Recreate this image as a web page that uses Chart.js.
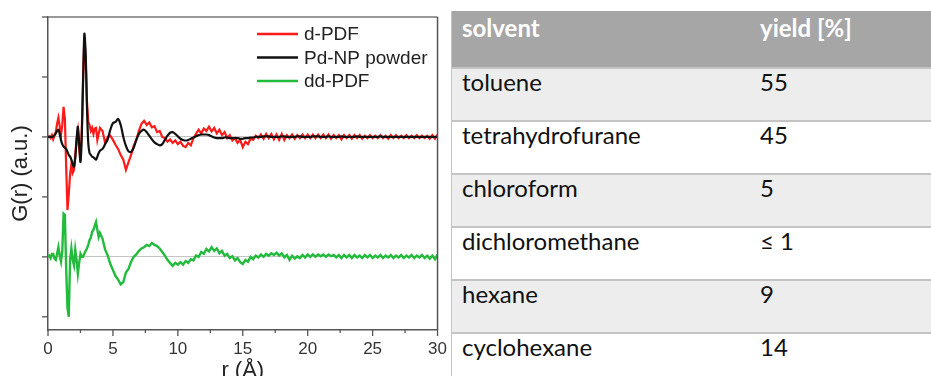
<!DOCTYPE html>
<html>
<head>
<meta charset="utf-8">
<script src="https://cdn.jsdelivr.net/npm/chart.js@4/dist/chart.umd.min.js"></script>
<style>
body{margin:0;width:931px;height:376px;overflow:hidden;background:#fff;position:relative}
#plot{position:absolute;left:0;top:0;width:456px;height:390px}
#tbl{position:absolute;left:451px;top:11px;width:520px;table-layout:fixed;border-collapse:collapse;font-family:Lato,sans-serif;font-size:24px;color:#111;border-left:1px solid #c4c4c4;background:#fff}
#tbl th,#tbl td{text-align:left;vertical-align:top;padding:0 0 0 10px;line-height:26px}
#tbl th{background:#a6a6a6;color:#fff;font-weight:700;height:52px;padding-top:4px}
#tbl td{height:53px;border-top:2px solid #c4c4c4;box-sizing:border-box}
#tbl tr:nth-child(even) td{background:#ededed}
#tbl th:first-child{width:288px}
</style>
</head>
<body>
<div id="plot"><canvas id="pdfChart"></canvas></div>
<table id="tbl"></table>
<script>
// r sampling positions (Å)
const rGrid = [
  0,0.1,0.2,0.3,0.4,0.5,0.6,0.7,0.8,0.9,
  1,1.1,1.2,1.3,1.4,1.5,1.6,1.7,1.8,1.9,
  2,2.1,2.2,2.3,2.4,2.5,2.6,2.7,2.8,2.9,
  3,3.1,3.2,3.3,3.4,3.5,3.6,3.7,3.8,3.9,
  4,
  4.2,4.4,4.6,4.8,5,5.2,5.4,5.6,5.8,6,
  6.2,6.4,6.6,6.8,7,7.2,7.4,7.6,7.8,8,
  8.2,8.4,8.6,8.8,9,9.2,9.4,9.6,9.8,10,
  10.2,10.4,10.6,10.8,11,11.2,11.4,11.6,11.8,12,
  12.2,12.4,12.6,12.8,13,13.2,13.4,13.6,13.8,14,
  14.2,14.4,14.6,14.8,15,15.2,15.4,15.6,15.8,16,
  16.2,16.4,16.6,16.8,17,17.2,17.4,17.6,17.8,18,
  18.2,18.4,18.6,18.8,19,19.2,19.4,19.6,19.8,20,
  20.2,20.4,20.6,20.8,21,21.2,21.4,21.6,21.8,22,
  22.2,22.4,22.6,22.8,23,23.2,23.4,23.6,23.8,24,
  24.2,24.4,24.6,24.8,25,25.2,25.4,25.6,25.8,26,
  26.2,26.4,26.6,26.8,27,27.2,27.4,27.6,27.8,28,
  28.2,28.4,28.6,28.8,29,29.2,29.4,29.6,29.8,30
];

// d-PDF (rojo)
const dPdf = [
  0,0.01,-0.02,0.03,-0.04,0.02,0.08,0.22,0.32,0.18,
  0.03,0.2,0.5,0.3,-0.5,-1.22,-0.95,-0.63,-0.45,-0.6,
  -0.55,-0.3,-0.05,0.1,-0.2,-0.38,0.1,1.0,1.62,1.3,
  0.6,0.25,0.2,0.1,0.15,0.05,0.14,0.15,-0.05,0.05,
  0.15,
  0.1,-0.1,0,0.02,-0.05,-0.13,-0.2,-0.3,-0.38,-0.55,
  -0.42,-0.3,-0.15,-0.05,0.1,0.22,0.27,0.2,0.24,0.16,
  0.18,0.08,0.1,0,-0.02,-0.08,-0.04,-0.1,-0.06,-0.12,
  -0.08,-0.15,-0.17,-0.1,-0.14,-0.02,0.05,0.12,0.06,0.14,
  0.1,0.17,0.09,0.15,0.06,0.12,0.03,0.08,-0.02,0.03,
  -0.06,-0.02,-0.1,-0.05,-0.17,-0.08,-0.12,-0.03,-0.05,0.02,
  -0.02,0.04,-0.03,0.05,-0.02,0.05,-0.04,0.04,-0.05,0.05,
  -0.05,0.03,-0.02,0.04,-0.03,0.03,-0.02,0.04,-0.02,0.04,
  -0.02,0.04,-0.02,0.04,-0.02,0.04,-0.02,0.04,-0.03,0.03,
  -0.02,0.03,-0.04,0.03,-0.02,0.03,-0.03,0.03,-0.02,0.03,
  -0.03,0.02,-0.02,0.03,-0.02,0.02,-0.02,0.03,-0.02,0.02,
  -0.03,0.03,-0.02,0.03,-0.02,0.02,-0.02,0.03,-0.02,0.02,
  -0.02,0.03,-0.02,0.02,-0.02,0.02,-0.03,0.03,-0.03,0.04
];

// Pd-NP powder (negro)
const pdPowder = [
  0,0,0,0,0.01,0.03,0.06,0.1,0.12,0.05,
  -0.05,-0.12,-0.16,-0.18,-0.2,-0.25,-0.3,-0.33,-0.38,-0.45,
  -0.5,-0.35,-0.05,0.17,-0.1,-0.42,0,0.9,1.72,1.4,
  0.5,-0.1,-0.27,-0.3,-0.33,-0.34,-0.36,-0.38,-0.33,-0.27,
  -0.23,
  -0.2,-0.12,-0.04,0.12,0.23,0.25,0.3,0.2,0,-0.15,
  -0.24,-0.25,-0.18,-0.05,0.05,0.1,0.12,0.08,0.02,-0.04,
  -0.09,-0.12,-0.14,-0.12,-0.05,0.02,0.07,0.08,0.05,0.01,
  -0.03,-0.05,-0.06,-0.05,-0.03,-0.01,0.01,0.03,0.04,0.04,
  0.04,0.03,0.01,-0.01,-0.02,-0.02,-0.02,-0.01,-0.01,-0.02,
  -0.02,-0.02,-0.02,-0.03,-0.03,-0.02,-0.02,-0.01,-0.01,0,
  0,0,0.01,0.01,0.01,0,0,0,0,0.01,
  0.01,0,0,0,0,0.01,0.01,0,0,0,
  0,0.01,0.01,0.01,0,0,0,0.01,0,0,
  0,0,0.01,0,0,0,0,0,0.01,0,
  0,0,0,0,0,0,0,0.01,0,0,
  0,0,0,0,0,0,0,0,0,0,
  0,0,0,0,0,0,0,0,0,0
];

// dd-PDF (verde), se dibuja desplazado hacia abajo
const ddPdf = [
  0,0.02,-0.02,0.05,0.05,-0.03,-0.05,0.05,0.16,0.02,
  -0.08,0.1,0.72,0.7,-0.2,-0.85,-1.0,-0.05,0.14,-0.05,
  -0.14,0.12,-0.05,-0.28,-0.1,0.05,0,0,0.05,0.1,
  0.14,0.2,0.28,0.32,0.42,0.45,0.52,0.58,0.45,0.33,
  0.4,
  0.3,0.12,0.02,-0.12,-0.22,-0.32,-0.38,-0.46,-0.42,-0.26,
  -0.2,-0.08,0,0.04,0.1,0.14,0.16,0.2,0.18,0.23,
  0.2,0.18,0.14,0.08,0.02,-0.05,-0.1,-0.15,-0.1,-0.13,
  -0.09,-0.13,-0.07,-0.1,-0.04,-0.06,0.02,0,0.08,0.05,
  0.13,0.09,0.16,0.1,0.14,0.06,0.1,0.02,0.05,-0.02,
  0.01,-0.06,-0.02,-0.09,-0.12,-0.05,-0.08,0,-0.04,0.02,
  -0.01,0.04,0,0.05,0.02,0.06,0.03,0.07,0.02,0.06,
  -0.01,0.03,-0.05,0.02,-0.03,0.01,-0.02,0.03,-0.01,0.04,
  0,0.04,0,0.04,0.01,0.04,0,0.04,0.01,0.03,
  -0.01,0.03,-0.02,0.03,-0.01,0.03,-0.02,0.03,-0.01,0.02,
  -0.02,0.03,-0.01,0.03,-0.02,0.02,-0.01,0.03,-0.02,0.02,
  -0.01,0.03,-0.02,0.02,-0.01,0.03,-0.02,0.02,-0.01,0.03,
  -0.02,0.02,-0.01,0.03,-0.02,0.02,-0.03,0.02,-0.04,0.04
];
const ddOffset = -2;

const xTickStep = 2.5;
const yTickStep = 1;

// tabla
const solvents = ['toluene','tetrahydrofurane','chloroform','dichloromethane','hexane','cyclohexane'];
const yields = ['55','45','5','≤ 1','9','14'];
const tableHead = ['solvent','yield [%]'];

const tbl = document.getElementById('tbl');
let html = '<tr><th>' + tableHead[0] + '</th><th>' + tableHead[1] + '</th></tr>';
solvents.forEach((s, i) => {
    html += '<tr><td>' + s + '</td><td>' + yields[i] + '</td></tr>';
});
tbl.innerHTML = html;

const toPoints = (vals, shift) => rGrid.map((r, i) => ({x: r, y: vals[i] + shift}));

// marco, ticks y leyenda dentro del area
const framePlugin = {
    id: 'frame',
    afterDraw(chart){
        const {ctx, chartArea: a, scales: {x, y}} = chart;
        ctx.save();
        ctx.lineWidth = 1.5;
        ctx.strokeStyle = '#777';
        ctx.beginPath(); ctx.moveTo(a.left, a.top); ctx.lineTo(a.right, a.top); ctx.stroke();
        ctx.strokeStyle = '#555';
        ctx.beginPath(); ctx.moveTo(a.right, a.top); ctx.lineTo(a.right, a.bottom); ctx.stroke();

        ctx.lineWidth = 1.3;
        x.ticks.forEach(t => {
            const px = x.getPixelForValue(t.value);
            const len = t.value % 5 === 0 ? 6 : 3;
            ctx.beginPath(); ctx.moveTo(px, a.bottom); ctx.lineTo(px, a.bottom + len); ctx.stroke();
        });
        y.ticks.forEach(t => {
            const py = y.getPixelForValue(t.value);
            ctx.beginPath(); ctx.moveTo(a.left, py); ctx.lineTo(a.left - 6, py); ctx.stroke();
        });

        ctx.font = '19px "Liberation Sans", Arial, sans-serif';
        ctx.textBaseline = 'middle';
        ctx.fillStyle = '#222';
        chart.data.datasets.forEach((ds, i) => {
            const ly = a.top + 17 + i * 23.5;
            ctx.strokeStyle = ds.borderColor;
            ctx.lineWidth = 2.5;
            ctx.beginPath(); ctx.moveTo(a.left + 209, ly); ctx.lineTo(a.left + 250, ly); ctx.stroke();
            ctx.fillText(ds.label, a.left + 256, ly + 1);
        });
        ctx.restore();
    }
};

const pdfChart = new Chart(document.getElementById('pdfChart'), {
    type: 'line',
    data: {
        datasets: [
            {
                label: 'd-PDF',
                data: toPoints(dPdf, 0),
                borderColor: '#ff1a1a',
                borderWidth: 2.2,
                order: 1
            },
            {
                label: 'Pd-NP powder',
                data: toPoints(pdPowder, 0),
                borderColor: '#111111',
                borderWidth: 2.2,
                tension: 0.3,
                order: 0
            },
            {
                label: 'dd-PDF',
                data: toPoints(ddPdf, ddOffset),
                borderColor: '#22bb3c',
                borderWidth: 2.4,
                order: 2
            }
        ]
    },
    options: {
        responsive: true,
        maintainAspectRatio: false,
        animation: false,
        elements: { point: { radius: 0 } },
        layout: { padding: { top: 17, right: 0, left: 0, bottom: 0 } },
        scales: {
            x: {
                type: 'linear',
                min: 0,
                max: 30,
                afterFit(scale){ scale.height = 60; },
                grid: { display: false, drawTicks: false },
                border: { display: true, color: '#555', width: 1.5 },
                ticks: {
                    stepSize: xTickStep,
                    padding: 9,
                    color: '#333',
                    maxRotation: 0,
                    autoSkip: false,
                    font: { family: 'Liberation Sans', size: 17 },
                    callback: (v) => (v % 5 === 0 ? v : '')
                },
                title: {
                    display: true,
                    text: 'r (Å)',
                    color: '#222',
                    font: { family: 'Liberation Sans', size: 22 },
                    padding: { top: 0, bottom: 6 }
                }
            },
            y: {
                min: -3.22,
                max: 2.0,
                afterFit(scale){ scale.width = 48; },
                grid: {
                    drawTicks: false,
                    lineWidth: 1,
                    color: (c) => (c.tick && (c.tick.value === 0 || c.tick.value === ddOffset)) ? '#c4c4c4' : 'rgba(0,0,0,0)'
                },
                border: { display: true, color: '#555', width: 1.5 },
                ticks: { display: false, stepSize: yTickStep, includeBounds: false },
                title: {
                    display: true,
                    text: 'G(r) (a.u.)',
                    color: '#222',
                    font: { family: 'Liberation Sans', size: 22 },
                    padding: { top: 8, bottom: 0 }
                }
            }
        },
        plugins: {
            legend: { display: false },
            tooltip: { enabled: false }
        }
    },
    plugins: [framePlugin]
});
</script>
</body>
</html>
